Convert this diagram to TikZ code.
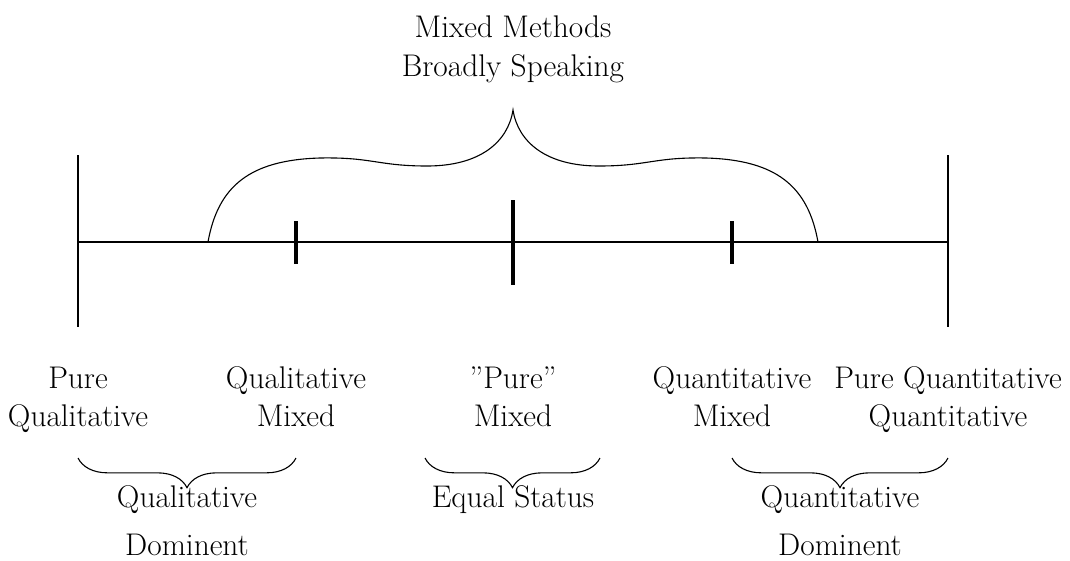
\documentclass[tikz,border=0pt]{standalone}
\usetikzlibrary{decorations.pathreplacing}
\begin{document}
\begin{tikzpicture}[x=0.7246pt,y=-0.7246pt,
  axisline/.style={line width=1.2pt},
  endline/.style={line width=1.4pt},
  smalltick/.style={line width=2.2pt},
  bigtick/.style={line width=3.2pt},
  bigbrace/.style={line width=0.8pt},
  smallbrace/.style={line width=0.8pt,decorate,decoration={brace,mirror,amplitude=21.5pt}},
  lbl/.style={inner sep=0pt,anchor=base,font=\fontsize{22.7}{27}\selectfont}]
\useasboundingbox (0,0) rectangle (1070,560);
% axis
\coordinate (L) at (78,242);
\coordinate (R) at (948,242);
\coordinate (Ltop) at (78,155);
\coordinate (Lbot) at (78,327);
\coordinate (Rtop) at (948,155);
\coordinate (Rbot) at (948,327);
\coordinate (t1a) at (296,221); \coordinate (t1b) at (296,264);
\coordinate (t2a) at (513,200); \coordinate (t2b) at (513,285);
\coordinate (t3a) at (732,221); \coordinate (t3b) at (732,264);
\draw[axisline] (L) -- (R);
\draw[endline] (Ltop) -- (Lbot);
\draw[endline] (Rtop) -- (Rbot);
\draw[smalltick] (t1a) -- (t1b);
\draw[bigtick] (t2a) -- (t2b);
\draw[smalltick] (t3a) -- (t3b);
% big brace
\coordinate (bbL) at (208,242);
\coordinate (bbR) at (818,242);
\coordinate (bbTip) at (513,110);
\draw[bigbrace] (bbL) .. controls (218,186) and (250,160) .. (320,158)
  .. controls (372,157) and (378,166) .. (427,166)
  .. controls (480,166) and (508,142) .. (bbTip)
  .. controls (518,142) and (546,166) .. (599,166)
  .. controls (648,166) and (654,157) .. (706,158)
  .. controls (776,160) and (808,186) .. (bbR);
\node[lbl] (mm1) at (513,37) {Mixed Methods};
\node[lbl] (mm2) at (513,76) {Broadly Speaking};
% labels
\node[lbl] (a1) at (78,388) {Pure};
\node[lbl] (a2) at (78,426) {Qualitative};
\node[lbl] (b1) at (296,388) {Qualitative};
\node[lbl] (b2) at (296,426) {Mixed};
\node[lbl] (c1) at (513,388) {''Pure''};
\node[lbl] (c2) at (513,426) {Mixed};
\node[lbl] (d1) at (732,388) {Quantitative};
\node[lbl] (d2) at (732,426) {Mixed};
\node[lbl] (e1) at (948,388) {Pure Quantitative};
\node[lbl] (e2) at (948,426) {Quantitative};
% small braces
\coordinate (s1a) at (78,458); \coordinate (s1b) at (296,458);
\coordinate (s2a) at (425,458); \coordinate (s2b) at (600,458);
\coordinate (s3a) at (732,458); \coordinate (s3b) at (948,458);
\draw[smallbrace] (s1a) -- (s1b);
\draw[smallbrace] (s2a) -- (s2b);
\draw[smallbrace] (s3a) -- (s3b);
\node[lbl] (f1) at (187,507) {Qualitative};
\node[lbl] (f2) at (187,555) {Dominent};
\node[lbl] (g1) at (513,507) {Equal Status};
\node[lbl] (h1) at (840,507) {Quantitative};
\node[lbl] (h2) at (840,555) {Dominent};
\end{tikzpicture}
\end{document}
